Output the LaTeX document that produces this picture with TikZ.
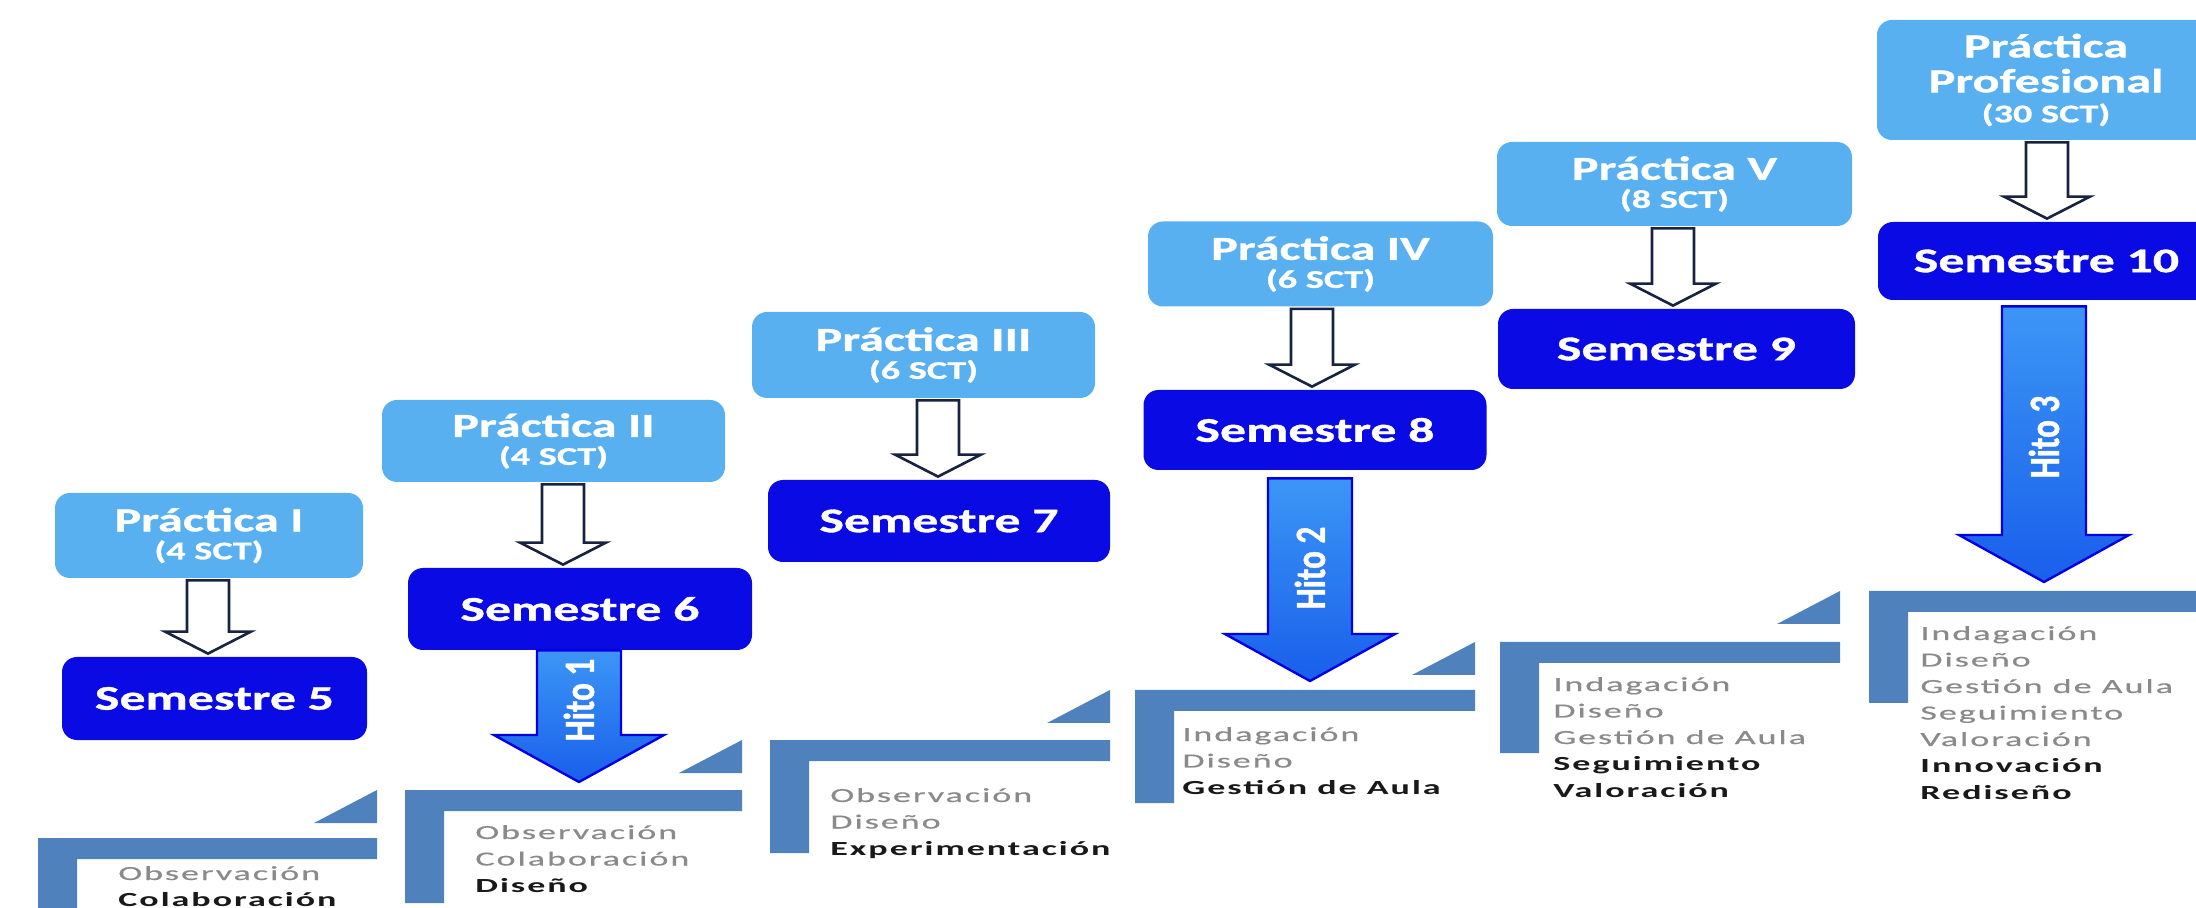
\documentclass[tikz,border=0pt]{standalone}
\usepackage{fontspec}
\usepackage{graphicx}
\usetikzlibrary{calc}
\newfontfamily\cfont[FakeStretch=1.5,FakeBold=1]{Carlito}
\newfontfamily\lfont[FakeStretch=1.8,LetterSpace=10]{Carlito}
\newfontfamily\gfont[FakeStretch=1.8,LetterSpace=10,FakeBold=0.5]{Carlito}
\newfontfamily\hfont[FakeBold=1]{Carlito}
\definecolor{pblue}{RGB}{88,176,240}
\definecolor{sblue}{RGB}{10,10,228}
\definecolor{bblue}{RGB}{79,129,189}
\definecolor{navy}{RGB}{25,35,65}
\definecolor{tgrey}{RGB}{138,138,138}
\definecolor{tblack}{RGB}{25,25,25}
\definecolor{hitotop}{RGB}{60,150,245}
\definecolor{hitobot}{RGB}{25,95,235}
\definecolor{hitoline}{RGB}{0,0,225}
\tikzset{
  pbox/.style={fill=pblue, rounded corners=7.5pt, text=white, align=center, inner sep=0pt,
    font=\cfont\bfseries\fontsize{16.75}{14}\selectfont},
  sbox/.style={fill=sblue, rounded corners=7.5pt, text=white, inner sep=0pt,
    font=\cfont\bfseries\fontsize{17.3}{20}\selectfont},
  hollowarrow/.style={draw=navy, line width=1.3pt, fill=white, line join=miter},
  hitoarrow/.style={draw=hitoline, line width=1.2pt, top color=hitotop, bottom color=hitobot, line join=miter},
  hitotext/.style={rotate=90, text=white, inner sep=0pt, font=\hfont\bfseries\fontsize{16.6}{18}\selectfont},
  btg/.style={text=tgrey, inner sep=0pt, font=\gfont\fontsize{10}{12}\selectfont},
  btk/.style={text=tblack, inner sep=0pt, font=\lfont\bfseries\fontsize{10}{12}\selectfont},
}
\newcommand\sct[1]{{\fontsize{12.75}{14}\selectfont #1}}
% style, start, end, shaft half, head half, head length
\newcommand\fatarrow[6]{%
  \path[#1] let \p1=(#2), \p2=(#3) in
    (\x1-#4,\y1) -- (\x1+#4,\y1) -- (\x1+#4,\y2+#6) -- (\x1+#5,\y2+#6) --
    (\x1,\y2) -- (\x1-#5,\y2+#6) -- (\x1-#4,\y2+#6) -- cycle;}
% left, top, right, bottom
\newcommand\bracketshape[4]{%
  \fill[bblue] (#1,#2) -- (#3,#2) -- (#3,#2+21) -- (#1+39,#2+21) -- (#1+39,#4) -- (#1,#4) -- cycle;}
% right, top
\newcommand\wedgeshape[2]{%
  \fill[bblue] (#1,#2) -- (#1,#2+33) -- (#1-63,#2+33) -- cycle;}
% name, x, first baseline, list
\newcommand\btext[4]{%
  \foreach \cl/\txt [count=\i from 0] in {#4} {
    \node[bt\cl, anchor=base west] (#1-\i) at (#2,#3+\i*26.5) {\txt};
  }}
\begin{document}
\begin{tikzpicture}[x=0.5pt,y=-0.5pt]
\useasboundingbox (0,0) rectangle (2196,908);
\fill[white] (0,0) rectangle (2196,908);
\clip (0,0) rectangle (2196,908);

% brackets
\bracketshape{38}{838}{377}{951}
\bracketshape{405}{790}{742}{903}
\bracketshape{770}{740}{1110}{853}
\bracketshape{1135}{690}{1475}{803}
\bracketshape{1500}{642}{1840}{753}
\bracketshape{1869}{591}{2230}{703}
\wedgeshape{377}{790}
\wedgeshape{742}{740}
\wedgeshape{1110}{690}
\wedgeshape{1475}{642}
\wedgeshape{1840}{591}

% bracket texts
\btext{t1}{118}{880}{g/Observación, k/Colaboración}
\btext{t2}{475}{839}{g/Observación, g/Colaboración, k/Diseño}
\btext{t3}{830}{802}{g/Observación, g/Diseño, k/Experimentación}
\btext{t4}{1182}{741}{g/Indagación, g/Diseño, k/Gestión de Aula}
\btext{t5}{1553}{691}{g/Indagación, g/Diseño, g/Gestión de Aula, k/Seguimiento, k/Valoración}
\btext{t6}{1920}{640}{g/Indagación, g/Diseño, g/Gestión de Aula, g/Seguimiento, g/Valoración, k/Innovación, k/Rediseño}

% practica boxes
\node[pbox, minimum width=154pt, minimum height=42.5pt] (p1) at (209,535.5) {Práctica I\\\sct{(4 SCT)}};
\node[pbox, minimum width=171.5pt, minimum height=41pt] (p2) at (553.5,441) {Práctica II\\\sct{(4 SCT)}};
\node[pbox, minimum width=171.5pt, minimum height=43pt] (p3) at (923.5,355) {Práctica III\\\sct{(6 SCT)}};
\node[pbox, minimum width=172.5pt, minimum height=42.5pt] (p4) at (1320.5,264) {Práctica IV\\\sct{(6 SCT)}};
\node[pbox, minimum width=177.5pt, minimum height=42pt] (p5) at (1674.5,184) {Práctica V\\\sct{(8 SCT)}};
\node[pbox, minimum width=169pt, minimum height=60pt] (p6) at (2046,80) {Práctica\\[3.5pt]Profesional\\[1pt]\sct{(30 SCT)}};

% semestre boxes
\node[sbox, minimum width=152.5pt, minimum height=41.5pt] (s5) at (214.5,698.5) {Semestre 5};
\node[sbox, minimum width=172pt, minimum height=41pt] (s6) at (580,609) {Semestre 6};
\node[sbox, minimum width=171pt, minimum height=41pt] (s7) at (939,521) {Semestre 7};
\node[sbox, minimum width=171.5pt, minimum height=40pt] (s8) at (1315,430) {Semestre 8};
\node[sbox, minimum width=178.5pt, minimum height=40pt] (s9) at (1676.5,349) {Semestre 9};
\node[sbox, minimum width=168.5pt, minimum height=39pt] (s10) at (2046.5,261) {Semestre 10};

% hollow arrows
\coordinate (a1) at (208,0);
\coordinate (a2) at (563,0);
\coordinate (a3) at (938,0);
\coordinate (a4) at (1312,0);
\coordinate (a5) at (1673,0);
\coordinate (a6) at (2047,0);
\fatarrow{hollowarrow}{$(p1.south -| a1)+(0,2)$}{$(s5.north -| a1)+(0,-3)$}{10.5pt}{21.5pt}{11pt}
\fatarrow{hollowarrow}{$(p2.south -| a2)+(0,2)$}{$(s6.north -| a2)+(0,-3)$}{10.5pt}{21.5pt}{11pt}
\fatarrow{hollowarrow}{$(p3.south -| a3)+(0,2)$}{$(s7.north -| a3)+(0,-3)$}{10.5pt}{21.5pt}{11pt}
\fatarrow{hollowarrow}{$(p4.south -| a4)+(0,2)$}{$(s8.north -| a4)+(0,-3)$}{10.5pt}{21.5pt}{11pt}
\fatarrow{hollowarrow}{$(p5.south -| a5)+(0,2)$}{$(s9.north -| a5)+(0,-3)$}{10.5pt}{21.5pt}{11pt}
\fatarrow{hollowarrow}{$(p6.south -| a6)+(0,2)$}{$(s10.north -| a6)+(0,-3)$}{10.5pt}{21.5pt}{11pt}

% hito arrows
\coordinate (h1) at (579,782);
\coordinate (h2) at (1310,681);
\coordinate (h3) at (2044,582);
\fatarrow{hitoarrow}{s6.south -| h1}{h1}{21pt}{42.5pt}{23.5pt}
\fatarrow{hitoarrow}{$(s8.south -| h2)+(0,8)$}{h2}{21pt}{42.5pt}{23.5pt}
\fatarrow{hitoarrow}{$(s10.south -| h3)+(0,6)$}{h3}{21pt}{42.5pt}{23.5pt}
\node[hitotext] (ht1) at (579,700) {\scalebox{1}[1.3]{Hito 1}};
\node[hitotext] (ht2) at (1310,568) {\scalebox{1}[1.3]{Hito 2}};
\node[hitotext] (ht3) at (2044,437) {\scalebox{1}[1.3]{Hito 3}};
\end{tikzpicture}
\end{document}
